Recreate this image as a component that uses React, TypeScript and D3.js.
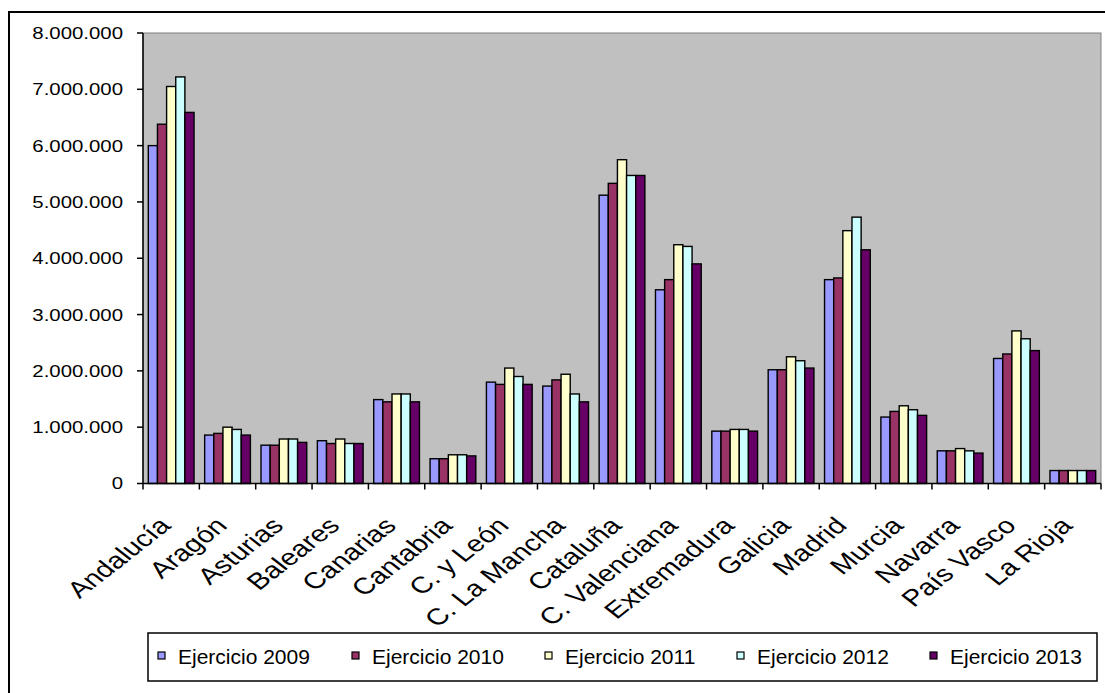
import React from "react";
import * as d3 from "d3";

const categories = ["Andalucía","Aragón","Asturias","Baleares","Canarias","Cantabria","C. y León","C. La Mancha","Cataluña","C. Valenciana","Extremadura","Galicia","Madrid","Murcia","Navarra","País Vasco","La Rioja"];
const seriesNames = ["Ejercicio 2009","Ejercicio 2010","Ejercicio 2011","Ejercicio 2012","Ejercicio 2013"];
const seriesColors = ["#9999FF","#993366","#FFFFCC","#CCFFFF","#660066"];
const v2009 = [6000000,860000,680000,760000,1490000,440000,1800000,1730000,5120000,3440000,930000,2020000,3620000,1180000,580000,2220000,230000];
const v2010 = [6380000,890000,680000,710000,1450000,440000,1760000,1840000,5330000,3620000,930000,2020000,3650000,1280000,580000,2300000,230000];
const v2011 = [7050000,1000000,790000,790000,1590000,510000,2050000,1940000,5750000,4240000,960000,2250000,4490000,1380000,620000,2710000,230000];
const v2012 = [7220000,960000,790000,710000,1590000,510000,1900000,1590000,5470000,4210000,960000,2180000,4730000,1310000,580000,2570000,230000];
const v2013 = [6590000,860000,730000,710000,1450000,490000,1760000,1450000,5470000,3900000,930000,2050000,4150000,1210000,540000,2360000,230000];
const yTicks = [0,1000000,2000000,3000000,4000000,5000000,6000000,7000000,8000000];

const seriesValues = [v2009, v2010, v2011, v2012, v2013];

const FONT = "'Liberation Sans', Arial, sans-serif";

export default function App() {
  const W = 1105, H = 693;
  const left = 143, right = 1101, top = 33, bottom = 483.5;
  const x0 = d3.scaleBand<string>().domain(categories).range([left, right]).paddingInner(0).paddingOuter(0);
  const x1 = d3.scaleBand<string>().domain(seriesNames).range([0, x0.bandwidth()]).paddingInner(0).paddingOuter(0.58);
  const y = d3.scaleLinear().domain([0, 8000000]).range([bottom, top]);
  const loc = d3.formatLocale({ decimal: ",", thousands: ".", grouping: [3], currency: ["", "€"] });
  const fmt = loc.format(",d");

  const boundaries = d3.range(categories.length + 1).map(i => left + i * x0.step());

  const legendX = [158, 352, 545, 737, 930];

  return (
    <svg width={W} height={H} style={{ position: "absolute", left: 0, top: 0, background: "#fff" }} fontFamily={FONT}>
      <rect x={9} y={12} width={1110} height={700} fill="#fff" stroke="#000" strokeWidth={2} />
      <rect x={left} y={top} width={right - left} height={bottom - top} fill="#C0C0C0" stroke="#808080" strokeWidth={1} />
      {categories.map((c, ci) =>
        seriesNames.map((s, si) => {
          const v = seriesValues[si][ci];
          const bx = (x0(c) as number) + (x1(s) as number);
          return (
            <rect key={c + s} x={bx} y={y(v)} width={x1.bandwidth()} height={bottom - y(v)}
              fill={seriesColors[si]} stroke="#000" strokeWidth={1.4} />
          );
        })
      )}
      <line x1={left} x2={left} y1={top} y2={bottom} stroke="#000" strokeWidth={1.5} />
      <line x1={left} x2={right} y1={bottom} y2={bottom} stroke="#000" strokeWidth={1.5} />
      {yTicks.map(t => (
        <g key={t}>
          <line x1={left - 6} x2={left} y1={y(t)} y2={y(t)} stroke="#000" strokeWidth={1.5} />
          <text transform={`translate(123,${y(t)}) scale(1.2,1)`} dy="0.35em" textAnchor="end" fontSize={17} fill="#000">{fmt(t)}</text>
        </g>
      ))}
      {boundaries.map((b, i) => (
        <line key={i} x1={b} x2={b} y1={bottom} y2={bottom + 6} stroke="#000" strokeWidth={1.5} />
      ))}
      {categories.map(c => {
        const cx = (x0(c) as number) + x0.bandwidth() / 2;
        return (
          <text key={c} transform={`translate(${cx + 1},${527}) scale(1.28,1) rotate(-45)`} textAnchor="end" fontSize={23} fill="#000">{c}</text>
        );
      })}
      <rect x={148} y={633} width={949} height={48} fill="#fff" stroke="#000" strokeWidth={1.5} />
      {seriesNames.map((s, i) => (
        <g key={s}>
          <rect x={legendX[i]} y={652} width={7} height={7} fill={seriesColors[i]} stroke="#000" strokeWidth={1.2} />
          <text x={legendX[i] + 20} y={664} fontSize={21} fill="#000">{s}</text>
        </g>
      ))}
    </svg>
  );
}
